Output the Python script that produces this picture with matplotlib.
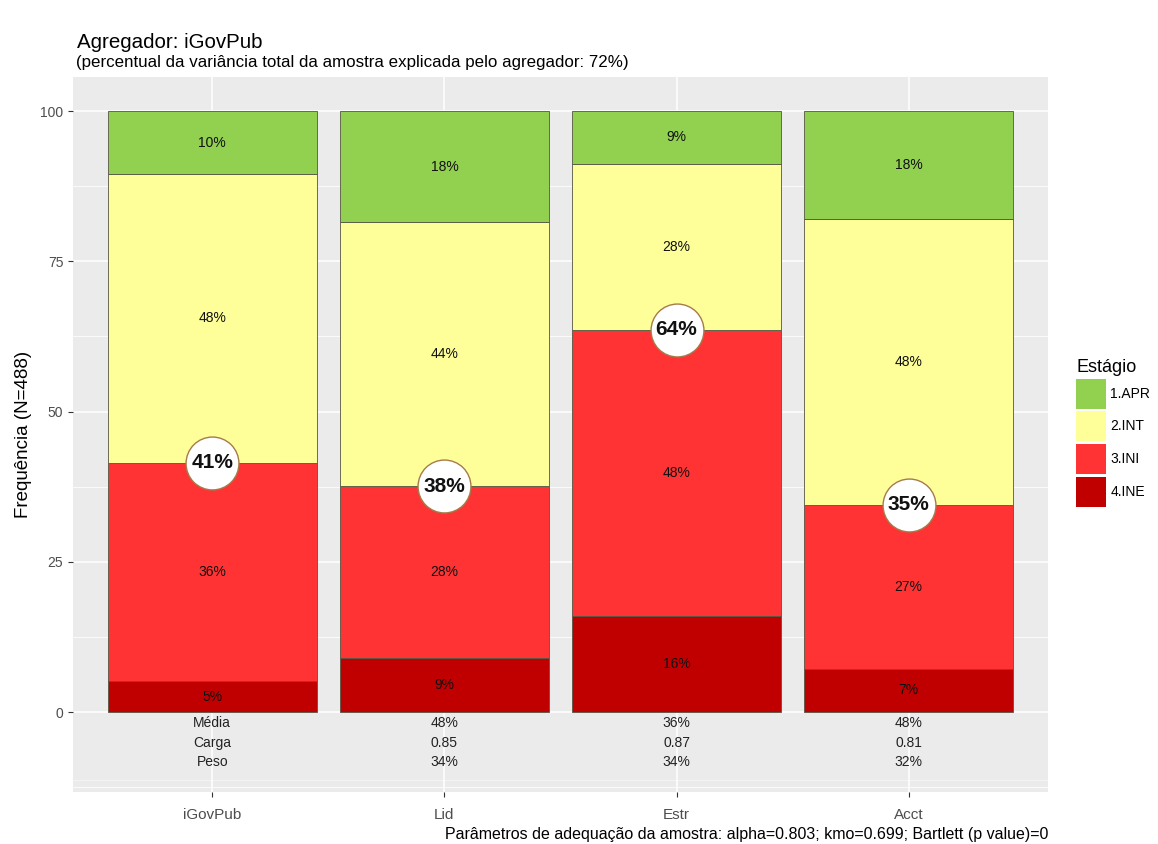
import matplotlib
matplotlib.use("Agg")
import matplotlib.pyplot as plt
import numpy as np
from matplotlib.patches import Patch

plt.rcParams['font.family'] = ['Liberation Sans', 'DejaVu Sans']

categories = ['iGovPub', 'Lid', 'Estr', 'Acct']
stages = ['1.APR', '2.INT', '3.INI', '4.INE']
colors = ['#92D050', '#FFFF99', '#FF3333', '#C00000']

ine = [5.1, 9.0, 16.0, 7.2]
ini = [36.4, 28.6, 47.6, 27.3]
intm = [48.0, 43.9, 27.6, 47.5]
apr = [10.5, 18.5, 8.8, 18.0]

lab_ine = ['5%', '9%', '16%', '7%']
lab_ini = ['36%', '28%', '48%', '27%']
lab_int = ['48%', '44%', '28%', '48%']
lab_apr = ['10%', '18%', '9%', '18%']
circle_labels = ['41%', '38%', '64%', '35%']

media = ['Média', '48%', '36%', '48%']
carga = ['Carga', '0.85', '0.87', '0.81']
peso = ['Peso', '34%', '34%', '32%']

title = 'Agregador: iGovPub'
subtitle = '(percentual da variância total da amostra explicada pelo agregador: 72%)'
ylabel = 'Frequência (N=488)'
caption = 'Parâmetros de adequação da amostra: alpha=0.803; kmo=0.699; Bartlett (p value)=0'

fig = plt.figure(figsize=(11.58, 8.44), dpi=100)
ax = fig.add_axes([73/1158, 1-792/844, (1048-73)/1158, (792-77)/844])
ax.set_facecolor('#EBEBEB')
for s in ax.spines.values():
    s.set_visible(False)

x = np.arange(1, len(categories) + 1)
ax.set_xlim(0.4, 4.6)
ax.set_ylim(-13.3, 105.66)

# gridlines
for yv in [0, 25, 50, 75, 100]:
    ax.axhline(yv, color='white', lw=1.1, zorder=0.5)
for yv in [-12.5, 12.5, 37.5, 62.5, 87.5]:
    ax.axhline(yv, color='white', lw=0.55, zorder=0.5)
ax.axhline(-11.3, color='white', lw=0.5, alpha=0.6, zorder=0.5)
for xv in x:
    ax.axvline(xv, color='white', lw=1.1, zorder=0.5)

series = [ine, ini, intm, apr]
sc = [colors[3], colors[2], colors[1], colors[0]]
labs = [lab_ine, lab_ini, lab_int, lab_apr]
bottom = np.zeros(len(categories))
for vals, col, lab in zip(series, sc, labs):
    vals = np.array(vals)
    ax.bar(x, vals, width=0.9, bottom=bottom, color=col, edgecolor='#555544', linewidth=0.6, zorder=2)
    for xi, b, v, t in zip(x, bottom, vals, lab):
        ax.text(xi, b + v/2, t, ha='center', va='center', fontsize=10, color='#111111', zorder=3)
    bottom = bottom + vals

cum = np.array(ine) + np.array(ini)
ax.scatter(x, cum, s=1450, facecolor='white', edgecolor='#A57B4B', linewidth=1.0, zorder=4)
for xi, c, t in zip(x, cum, circle_labels):
    ax.text(xi, c, t, ha='center', va='center', fontsize=15, fontweight='bold', color='#111111', zorder=5)

for row, yrow in zip([media, carga, peso], [-1.85, -5.15, -8.35]):
    for xi, t in zip(x, row):
        ax.text(xi, yrow, t, ha='center', va='center', fontsize=10, color='#222222', zorder=3)

ax.set_xticks(x)
ax.set_xticklabels(categories, fontsize=11, color='#4D4D4D')
ax.set_yticks([0, 25, 50, 75, 100])
ax.set_yticklabels(['0', '25', '50', '75', '100'], fontsize=10, color='#4D4D4D')
ax.tick_params(axis='both', length=3.5, color='#333333', width=0.8)
ax.tick_params(axis='x', pad=8)
ax.set_ylabel(ylabel, fontsize=13.5, labelpad=6)

fig.text(77/1158, 1-43/844, title, fontsize=14.8, ha='left', va='center')
fig.text(76/1158, 1-63/844, subtitle, fontsize=12.2, ha='left', va='center')
fig.text(1048/1158, 1-834/844, caption, fontsize=11.5, ha='right', va='center')

handles = [Patch(facecolor=c, edgecolor='none') for c in colors]
leg = ax.legend(handles, stages, title='Estágio', loc='upper left',
                bbox_to_anchor=(1076/1158, 1-359/844), bbox_transform=fig.transFigure,
                frameon=False, fontsize=10, title_fontsize=13, handlelength=2.16, handleheight=2.95,
                labelspacing=0.19, handletextpad=0.3, borderpad=0, borderaxespad=0,
                alignment='left')

fig.savefig('out.png', dpi=100)
